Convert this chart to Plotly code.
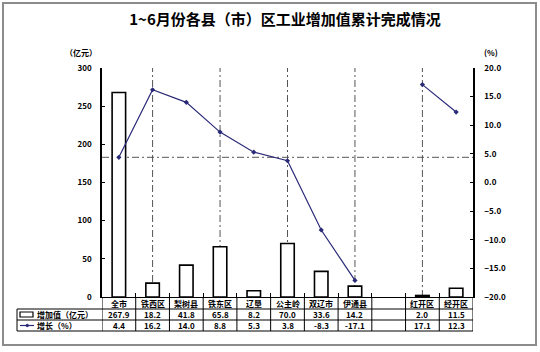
import plotly.graph_objects as go

categories = ["全市", "铁西区", "梨树县", "铁东区", "辽垦", "公主岭", "双辽市", "伊通县", "", "红开区", "经开区"]
added_value = [267.9, 18.2, 41.8, 65.8, 8.2, 70.0, 33.6, 14.2, None, 2.0, 11.5]
growth = [4.4, 16.2, 14.0, 8.8, 5.3, 3.8, -8.3, -17.1, None, 17.1, 12.3]
guide_idx = [1, 3, 5, 7, 9]
left_ticks = [0, 50, 100, 150, 200, 250, 300]
right_ticks = [-20, -15, -10, -5, 0, 5, 10, 15, 20]

FONT = "Noto Sans CJK SC"
LINE_C = "#2a2a78"
xs = list(range(len(categories)))

fig = go.Figure()
fig.add_trace(go.Bar(x=xs, y=added_value, width=0.4,
                     marker=dict(color="white", line=dict(color="black", width=1.6)),
                     yaxis="y", showlegend=False))
fig.add_trace(go.Scatter(x=xs, y=growth, mode="lines+markers", connectgaps=False,
                         line=dict(color=LINE_C, width=1.2),
                         marker=dict(color=LINE_C, size=4, symbol="diamond"),
                         yaxis="y2", showlegend=False))

# plot area pixel geometry
L, R, T, B = 102, 473, 68, 297
H = B - T
W = R - L
def py(p):
    return (B - p) / H
def px(p):
    return (p - L) / W

rows = [297, 309, 320, 331]
shapes = []
annos = []

# guide lines
dash = "7px,3px,2px,3px"
for i in guide_idx:
    shapes.append(dict(type="line", xref="x", yref="paper", x0=i, x1=i, y0=0, y1=1,
                       line=dict(color="#555555", width=1, dash=dash), layer="below"))
shapes.append(dict(type="line", xref="paper", yref="y2", x0=0, x1=1, y0=growth[0], y1=growth[0],
                   line=dict(color="#555555", width=1, dash=dash), layer="below"))

# table grid
n = len(categories)
for k in range(n + 1):
    shapes.append(dict(type="line", xref="x", yref="paper", x0=k - 0.5, x1=k - 0.5,
                       y0=0, y1=py(rows[3]), line=dict(color="black", width=1)))
shapes.append(dict(type="line", xref="paper", yref="paper", x0=px(17), x1=px(17),
                   y0=py(rows[1]), y1=py(rows[3]), line=dict(color="black", width=1)))
for r in rows[1:]:
    shapes.append(dict(type="line", xref="paper", yref="paper", x0=px(17), x1=1,
                       y0=py(r), y1=py(r), line=dict(color="black", width=1)))

# legend icons in header cells
shapes.append(dict(type="rect", xref="paper", yref="paper", x0=px(20), x1=px(33),
                   y0=py(317), y1=py(312), line=dict(color="black", width=1.2), fillcolor="white"))
shapes.append(dict(type="line", xref="paper", yref="paper", x0=px(20), x1=px(34),
                   y0=py(325.5), y1=py(325.5), line=dict(color=LINE_C, width=1.2)))
shapes.append(dict(type="circle", xref="paper", yref="paper", x0=px(26), x1=px(28.5),
                   y0=py(326.7), y1=py(324.3), line=dict(color=LINE_C, width=1), fillcolor=LINE_C))

tf = dict(family=FONT, size=8, color="black", weight="bold")
mid = [(rows[j] + rows[j + 1]) / 2 for j in range(3)]
for i, c in enumerate(categories):
    if c:
        annos.append(dict(x=i, y=py(mid[0]), xref="x", yref="paper", text=c, showarrow=False, font=tf,
                          xanchor="center", yanchor="middle"))
    if added_value[i] is not None:
        annos.append(dict(x=i, y=py(mid[1]), xref="x", yref="paper", text=f"{added_value[i]:.1f}",
                          showarrow=False, font=tf, xanchor="center", yanchor="middle"))
    if growth[i] is not None:
        annos.append(dict(x=i, y=py(mid[2]), xref="x", yref="paper", text=f"{growth[i]:.1f}",
                          showarrow=False, font=tf, xanchor="center", yanchor="middle"))
hf = dict(family=FONT, size=8, color="black", weight="bold")
annos.append(dict(x=px(35), y=py(mid[1]), xref="paper", yref="paper", text="增加值（亿元）",
                  xanchor="left", yanchor="middle", showarrow=False, font=hf))
annos.append(dict(x=px(35), y=py(mid[2]), xref="paper", yref="paper", text="增长（%）",
                  xanchor="left", yanchor="middle", showarrow=False, font=hf))
annos.append(dict(x=px(81), y=py(52), xref="paper", yref="paper", text="（亿元）",
                  xanchor="center", yanchor="middle",
                  showarrow=False, font=dict(family=FONT, size=8, color="black", weight="bold")))
annos.append(dict(x=px(491), y=py(52), xref="paper", yref="paper", text="(%)",
                  xanchor="center", yanchor="middle",
                  showarrow=False, font=dict(family=FONT, size=8, color="black", weight="bold")))

# outer frame
shapes.append(dict(type="rect", xref="paper", yref="paper", x0=px(3), x1=px(536), y0=py(3), y1=py(345),
                   line=dict(color="#8c8c8c", width=2), layer="below"))

tick_font = dict(family=FONT, size=8, color="black", weight="bold")
fig.update_layout(
    width=540, height=352,
    margin=dict(l=L, r=540 - R, t=T, b=352 - B),
    paper_bgcolor="white", plot_bgcolor="white",
    title=dict(text="1~6月份各县（市）区工业增加值累计完成情况", x=(127 + 443) / 2 / 540, xanchor="center",
               y=1 - 20 / 352, yanchor="middle",
               font=dict(family=FONT, size=15, color="black", weight="bold")),
    xaxis=dict(range=[-0.5, n - 0.5], tickvals=[k - 0.5 for k in range(n + 1)], ticktext=[""] * (n + 1),
               ticks="inside", ticklen=4, tickcolor="black", showgrid=False, zeroline=False,
               showline=True, linecolor="black", linewidth=1),
    yaxis=dict(range=[0, 300], tickvals=left_ticks, ticks="inside", ticklen=3, tickcolor="black",
               showgrid=False, zeroline=False, showline=True, linecolor="black", linewidth=1.5,
               tickfont=tick_font, ticklabelstandoff=7),
    yaxis2=dict(range=[-20, 20], tickvals=right_ticks, tickformat=".1f", overlaying="y", side="right",
                ticks="inside", ticklen=3, tickcolor="black", showgrid=False, zeroline=False,
                showline=True, linecolor="black", linewidth=1.5, tickfont=tick_font, ticklabelstandoff=8),
    shapes=shapes, annotations=annos, bargap=0.6,
)
fig.write_html("out.html")
